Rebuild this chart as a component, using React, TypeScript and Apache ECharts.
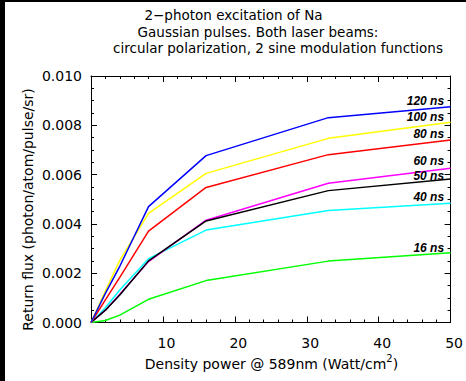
import React, { useEffect, useRef } from "react";
import * as echarts from "echarts";

const densityPower = [0, 2, 4, 8, 16, 33, 50];
const flux120ns = [0, 0.00118, 0.00228, 0.0047, 0.00677, 0.00831, 0.00875];
const flux100ns = [0, 0.00128, 0.00252, 0.00443, 0.00605, 0.00747, 0.00812];
const flux80ns = [0, 0.00092, 0.00183, 0.00371, 0.00548, 0.00681, 0.0074];
const flux60ns = [0, 0.0005, 0.00115, 0.00247, 0.00415, 0.00565, 0.00626];
const flux50ns = [0, 0.0005, 0.00112, 0.0025, 0.00412, 0.00535, 0.00582];
const flux40ns = [0, 0.0006, 0.00132, 0.00259, 0.00375, 0.00454, 0.00484];
const flux16ns = [0, 0.00008, 0.0003, 0.00094, 0.0017, 0.00249, 0.00283];

const seriesDefs = [
  { name: "16 ns", values: flux16ns, color: "#00ff00", dy: -5 },
  { name: "40 ns", values: flux40ns, color: "#00ffff", dy: -6 },
  { name: "60 ns", values: flux60ns, color: "#ff00ff", dy: -7 },
  { name: "50 ns", values: flux50ns, color: "#000000", dy: -3 },
  { name: "80 ns", values: flux80ns, color: "#ff0000", dy: -6 },
  { name: "100 ns", values: flux100ns, color: "#ffff00", dy: -5 },
  { name: "120 ns", values: flux120ns, color: "#0000ff", dy: -6 },
];

const titleLines = [
  "2\u2212photon excitation of Na",
  "Gaussian pulses. Both laser beams:",
  "circular polarization, 2 sine modulation functions",
];

const FONT = "DejaVu Sans";

export default function App() {
  const ref = useRef<HTMLDivElement>(null);
  useEffect(() => {
    if (!ref.current) return;
    const chart = echarts.init(ref.current, null, { renderer: "svg" });
    const axisCommon = {
      type: "value",
      axisLine: { show: true, onZero: false, lineStyle: { color: "#000", width: 1 } },
      splitLine: { show: false },
    };
    const option: any = {
      animation: false,
      backgroundColor: "#ffffff",
      grid: { left: 86, right: 15, top: 74, bottom: 58.5, containLabel: false },
      xAxis: [
        {
          ...axisCommon,
          min: 0,
          max: 50,
          interval: 10,
          position: "bottom",
          axisTick: { show: true, inside: true, length: 6, lineStyle: { color: "#000" } },
          minorTick: { show: true, splitNumber: 5, length: 3, lineStyle: { color: "#000" } },
          axisLabel: {
            showMinLabel: false,
            color: "#000",
            fontFamily: FONT,
            fontSize: 14,
            margin: 13,
            padding: [0, 0, 0, 7],
          },
        },
        {
          ...axisCommon,
          min: 0,
          max: 50,
          interval: 10,
          position: "top",
          axisTick: { show: true, inside: true, length: 6, lineStyle: { color: "#000" } },
          minorTick: { show: true, splitNumber: 5, length: 3, lineStyle: { color: "#000" } },
          axisLabel: { show: false },
        },
      ],
      yAxis: [
        {
          ...axisCommon,
          min: 0,
          max: 0.01,
          interval: 0.002,
          position: "left",
          axisTick: { show: true, inside: true, length: 6, lineStyle: { color: "#000" } },
          minorTick: { show: true, splitNumber: 4, length: 3, lineStyle: { color: "#000" } },
          axisLabel: {
            color: "#000",
            fontFamily: FONT,
            fontSize: 14,
            margin: 9,
            formatter: (v: number) => v.toFixed(3),
          },
        },
        {
          ...axisCommon,
          min: 0,
          max: 0.01,
          interval: 0.002,
          position: "right",
          axisTick: { show: true, inside: true, length: 6, lineStyle: { color: "#000" } },
          minorTick: { show: true, splitNumber: 4, length: 3, lineStyle: { color: "#000" } },
          axisLabel: { show: false },
        },
      ],
      series: seriesDefs.map((s) => ({
        type: "line",
        name: s.name,
        xAxisIndex: 0,
        yAxisIndex: 0,
        showSymbol: false,
        symbol: "none",
        lineStyle: { color: s.color, width: 1.5 },
        itemStyle: { color: s.color },
        data: densityPower.map((x, i) => [x, s.values[i]]),
        markPoint: {
          symbol: "circle",
          symbolSize: 1,
          itemStyle: { color: "rgba(0,0,0,0)" },
          data: [
            {
              coord: [densityPower[densityPower.length - 1], s.values[s.values.length - 1]],
              label: {
                show: true,
                position: "left",
                distance: 6,
                offset: [0, s.dy],
                formatter: s.name,
                color: "#000",
                fontFamily: "Liberation Sans",
                fontStyle: "italic",
                fontWeight: "bold",
                fontSize: 12,
                lineHeight: 12,
              },
            },
          ],
        },
      })),
      graphic: [
        ...titleLines.map((t, i) => ({
          type: "text",
          x: [228.5, 253, 273][i],
          y: [13, 29.5, 45.8][i],
          style: {
            text: t,
            fill: "#000",
            font: `13.5px "${FONT}"`,
            textAlign: "center",
            textVerticalAlign: "middle",
          },
        })),
        {
          type: "text",
          x: 23,
          y: 207.5,
          rotation: Math.PI / 2,
          style: {
            text: "Return flux (photon/atom/pulse/sr)",
            fill: "#000",
            font: `14px "${FONT}"`,
            textAlign: "center",
            textVerticalAlign: "middle",
          },
        },
        {
          type: "text",
          x: 266.5,
          y: 360,
          style: {
            text: "{a|Density power @ 589nm (Watt/cm}{s|2}{a|)}",
            textAlign: "center",
            textVerticalAlign: "middle",
            rich: {
              a: { fontFamily: FONT, fontSize: 14, fill: "#000", color: "#000", verticalAlign: "bottom", lineHeight: 18 },
              s: { fontFamily: FONT, fontSize: 10, fill: "#000", color: "#000", verticalAlign: "top", lineHeight: 18, padding: [0, 0, 8, 0] },
            },
          },
        },
      ],
    };
    chart.setOption(option);
    return () => chart.dispose();
  }, []);
  return (
    <div style={{ position: "fixed", left: 0, top: 0, width: 466, height: 381, background: "#000" }}>
      <div
        ref={ref}
        style={{ position: "absolute", left: 5, top: 2, width: 461, height: 379, background: "#fff" }}
      />
    </div>
  );
}
